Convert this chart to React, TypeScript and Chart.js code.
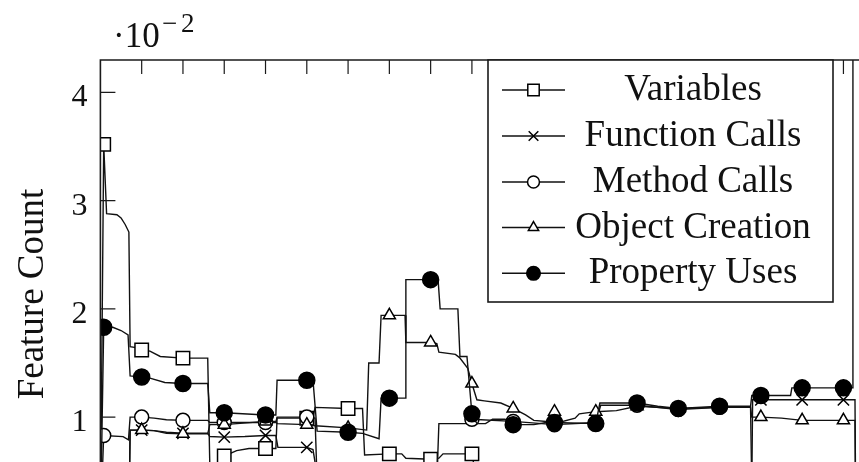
import React, { useEffect, useRef } from 'react';
import { Chart, registerables } from 'chart.js';
import { drawPoint } from 'chart.js/helpers';

Chart.register(...registerables);

// Feature counts (in units of 10^-2) along the normalised position axis.
const seriesNames = ['Variables', 'Function Calls', 'Method Calls', 'Object Creation', 'Property Uses'];

// x positions that carry a plot mark
const markerX = [0.08, 1, 2, 3, 4, 5, 6, 7, 8, 9, 10, 11, 12, 13, 14, 15, 16, 17, 18];
const xTicks = [1, 2, 3, 4, 5, 6, 7, 8, 9, 10, 11, 12, 13, 14, 15, 16, 17, 18];
const yTicks = [1, 2, 3, 4];

const variables: [number, number][] = [
  [0, 0], [0.08, 3.52], [0.15, 2.88], [0.4, 2.87], [0.5, 2.84], [0.6, 2.78], [0.69, 2.71],
  [0.72, 1.65], [0.9, 1.64], [1, 1.62], [1.2, 1.61], [1.45, 1.56], [2, 1.545], [2.6, 1.545],
  [2.65, 0.56], [2.85, 0.58], [3, 0.64], [3.3, 0.69], [3.6, 0.71], [4, 0.71], [4.25, 0.71],
  [4.28, 0.99], [5, 0.99], [5.15, 0.99], [5.2, 1.09], [6, 1.08], [6.35, 1.08], [6.4, 0.65],
  [7, 0.66], [7.3, 0.66], [7.4, 0.62], [8, 0.61], [8.2, 0.62], [8.3, 0.66], [9, 0.66],
  [9.15, 0.35], [10, 0.35], [11, 0.35], [12, 0.35], [13, 0.35], [14, 0.35], [15, 0.35],
  [16, 0.35], [17, 0.35], [18, 0.35], [18.28, 0.35], [18.3, 0],
];

const functionCalls: [number, number][] = [
  [0, 0], [0.08, 0.3], [0.7, 0.3], [0.72, 0.88], [1, 0.88], [1.3, 0.875], [1.6, 0.86],
  [2, 0.85], [2.6, 0.85], [2.65, 0.82], [3, 0.815], [3.5, 0.82], [4, 0.83], [4.25, 0.83],
  [4.3, 0.72], [5, 0.72], [5.15, 0.7], [5.3, 0.35], [6, 0.35], [7, 0.35], [8, 0.35],
  [9, 0.35], [10, 0.35], [11, 0.35], [12, 0.35], [13, 0.35], [14, 0.35], [15, 0.35],
  [15.78, 0.35], [15.8, 1.16], [16, 1.16], [17, 1.16], [18, 1.16], [18.28, 1.16], [18.3, 0],
];

const methodCalls: [number, number][] = [
  [0, 0], [0.08, 0.83], [0.55, 0.82], [0.68, 0.79], [0.72, 1.0], [1, 1.0], [1.3, 0.99],
  [1.6, 0.975], [2, 0.97], [2.6, 0.97], [2.65, 0.95], [3, 0.95], [4, 0.95], [4.25, 0.95],
  [4.28, 1.0], [5, 1.0], [5.2, 0.99], [5.25, 0.4], [6, 0.4], [7, 0.4], [8, 0.4], [8.15, 0.4],
  [8.2, 0.94], [8.9, 0.94], [9, 0.98], [10, 0.96], [11, 0.93], [12, 0.95], [12.12, 1.11],
  [13, 1.11], [14, 1.07], [15, 1.09], [15.75, 1.09], [15.78, 0.35], [16, 0.35], [17, 0.35],
  [18, 0.35], [18.28, 0.35], [18.3, 0],
];

const objectCreation: [number, number][] = [
  [0, 0], [0.08, 0.3], [0.7, 0.3], [0.72, 0.88], [1, 0.88], [1.3, 0.875], [1.6, 0.85],
  [2, 0.845], [2.6, 0.845], [2.65, 0.93], [3, 0.93], [4, 0.96], [4.25, 0.96], [4.28, 0.94],
  [5, 0.93], [5.2, 0.92], [6, 0.9], [6.45, 0.88], [6.5, 1.5], [6.75, 1.5], [6.8, 1.94],
  [7, 1.94], [7.38, 1.94], [7.4, 1.69], [8, 1.69], [8.15, 1.68], [8.2, 1.6], [8.6, 1.58],
  [8.7, 1.55], [8.9, 1.45], [9, 1.31], [9.12, 1.16], [9.3, 1.15], [9.7, 1.13], [10, 1.08],
  [10.3, 1.02], [10.5, 0.97], [10.8, 0.96], [11, 1.05], [11.2, 0.96], [11.5, 0.99],
  [11.6, 1.03], [12, 1.05], [12.5, 1.06], [13, 1.1], [13.5, 1.09], [14, 1.08], [15, 1.09],
  [15.75, 1.09], [15.78, 1.0], [16, 1.0], [16.5, 0.99], [17, 0.97], [18, 0.97],
  [18.28, 0.97], [18.3, 0],
];

const propertyUses: [number, number][] = [
  [0, 0], [0.08, 1.83], [0.3, 1.83], [0.5, 1.8], [0.67, 1.76], [0.72, 1.38], [1, 1.37],
  [1.2, 1.36], [1.56, 1.32], [2, 1.31], [2.6, 1.31], [2.65, 1.04], [3, 1.04], [4, 1.02],
  [4.25, 1.02], [4.28, 1.34], [5, 1.34], [5.15, 1.34], [5.25, 0.87], [6, 0.86], [6.35, 0.85],
  [6.75, 0.8], [6.8, 1.175], [7, 1.175], [7.38, 1.175], [7.4, 2.27], [8, 2.27], [8.18, 2.27],
  [8.23, 2.0], [8.66, 2.0], [8.71, 1.56], [8.88, 1.56], [9, 1.03], [9.12, 0.94], [9.33, 0.94],
  [9.5, 0.98], [9.8, 0.98], [10, 0.93], [10.5, 0.93], [10.8, 0.95], [11, 0.95], [12, 0.94],
  [12.1, 1.13], [13, 1.13], [13.5, 1.1], [14, 1.08], [15, 1.1], [15.75, 1.1], [15.78, 1.2],
  [16, 1.2], [16.72, 1.2], [16.75, 1.27], [17, 1.27], [18, 1.27], [18.22, 1.27], [18.23, 5],
];

const seriesData = [variables, functionCalls, methodCalls, objectCreation, propertyUses];

const markStyles = ['rect', 'crossRot', 'circle', 'triangle', 'circle'] as const;
const markFills = ['#ffffff', '#ffffff', '#ffffff', '#ffffff', '#000000'];
const markRadii = [9.5, 8, 7, 7, 8];

const X_MAX = 18.6;
const Y_MAX = 4.3;
const SERIF = '"Liberation Serif", "Times New Roman", serif';
const INK = '#111111';

const markSet = new Set(markerX);

const pgfAxis = {
  id: 'pgfAxis',
  afterDatasetsDraw(chart: any) {
    const { ctx, chartArea, scales } = chart;
    const { left, top, right, bottom } = chartArea;
    ctx.save();
    ctx.strokeStyle = '#1a1a1a';
    ctx.lineWidth = 1.6;
    ctx.beginPath();
    ctx.rect(left, top, right - left, bottom - top);
    ctx.stroke();

    ctx.lineWidth = 1.2;
    ctx.beginPath();
    for (const t of xTicks) {
      const px = scales.x.getPixelForValue(t);
      ctx.moveTo(px, top);
      ctx.lineTo(px, top + 14);
    }
    for (const t of yTicks) {
      const py = scales.y.getPixelForValue(t);
      ctx.moveTo(left, py);
      ctx.lineTo(left + 15, py);
    }
    ctx.stroke();

    ctx.fillStyle = INK;
    ctx.font = `32px ${SERIF}`;
    ctx.textAlign = 'right';
    ctx.textBaseline = 'alphabetic';
    for (const t of yTicks) {
      const py = scales.y.getPixelForValue(t);
      ctx.fillText(String(t), left - 13, py + 14);
    }

    // scale factor label
    ctx.textAlign = 'left';
    ctx.font = `35px ${SERIF}`;
    ctx.fillText('\u00b710', 113, 47);
    ctx.font = `27px ${SERIF}`;
    ctx.fillText('\u2212', 162, 32);
    ctx.fillText('2', 181, 32);

    // axis title
    ctx.save();
    ctx.translate(43, 294);
    ctx.rotate(-Math.PI / 2);
    ctx.textAlign = 'center';
    ctx.font = `37px ${SERIF}`;
    ctx.fillText('Feature Count', 0, 0);
    ctx.restore();
    ctx.restore();
  },
  afterDraw(chart: any) {
    const { ctx } = chart;
    const box = { l: 488, t: 60, r: 833, b: 302 };
    ctx.save();
    ctx.fillStyle = '#ffffff';
    ctx.fillRect(box.l, box.t, box.r - box.l, box.b - box.t);
    ctx.strokeStyle = '#1a1a1a';
    ctx.lineWidth = 1.6;
    ctx.strokeRect(box.l, box.t, box.r - box.l, box.b - box.t);

    const rowY = [90, 136, 182, 227.5, 273.3];
    seriesNames.forEach((name, i) => {
      const y = rowY[i];
      ctx.strokeStyle = INK;
      ctx.lineWidth = 1.4;
      ctx.beginPath();
      ctx.moveTo(502, y);
      ctx.lineTo(565, y);
      ctx.stroke();
      ctx.fillStyle = markFills[i];
      ctx.strokeStyle = '#000000';
      ctx.lineWidth = 1.5;
      drawPoint(ctx, { pointStyle: markStyles[i], radius: markRadii[i] * 0.85, borderWidth: 1.5, rotation: 0 }, 533.5, y);
      ctx.fillStyle = INK;
      ctx.font = `37px ${SERIF}`;
      ctx.textAlign = 'center';
      ctx.textBaseline = 'alphabetic';
      ctx.fillText(name, 693, y + 10);
    });
    ctx.restore();
  },
};

export default function App() {
  const canvasRef = useRef<HTMLCanvasElement | null>(null);

  useEffect(() => {
    const canvas = canvasRef.current;
    if (!canvas) return;
    const chart = new Chart(canvas, {
      type: 'line',
      data: {
        datasets: seriesData.map((pts, i) => ({
          label: seriesNames[i],
          data: pts.map(([x, y]) => ({ x, y })),
          order: seriesData.length - 1 - i,
          borderColor: INK,
          borderWidth: 1.4,
          tension: 0,
          fill: false,
          pointStyle: markStyles[i],
          pointBackgroundColor: markFills[i],
          pointBorderColor: '#000000',
          pointBorderWidth: 1.5,
          pointRadius: (c: any) => (c.raw && markSet.has(c.raw.x) ? markRadii[i] : 0),
          pointHoverRadius: 0,
        })),
      },
      options: {
        animation: false,
        responsive: false,
        devicePixelRatio: 1,
        events: [],
        layout: { padding: { left: 100.4, top: 60, right: 11.8, bottom: 34.7 } },
        scales: {
          x: { type: 'linear', min: 0, max: X_MAX, display: false },
          y: { type: 'linear', min: 0, max: Y_MAX, display: false },
        },
        plugins: { legend: { display: false }, tooltip: { enabled: false } },
      },
      plugins: [pgfAxis],
    } as any);
    return () => chart.destroy();
  }, []);

  return (
    <div
      style={{
        position: 'absolute',
        left: 0,
        top: 0,
        width: 859,
        height: 462,
        overflow: 'hidden',
        background: '#ffffff',
      }}
    >
      <canvas ref={canvasRef} width={880} height={560} style={{ width: 880, height: 560, display: 'block' }} />
    </div>
  );
}
